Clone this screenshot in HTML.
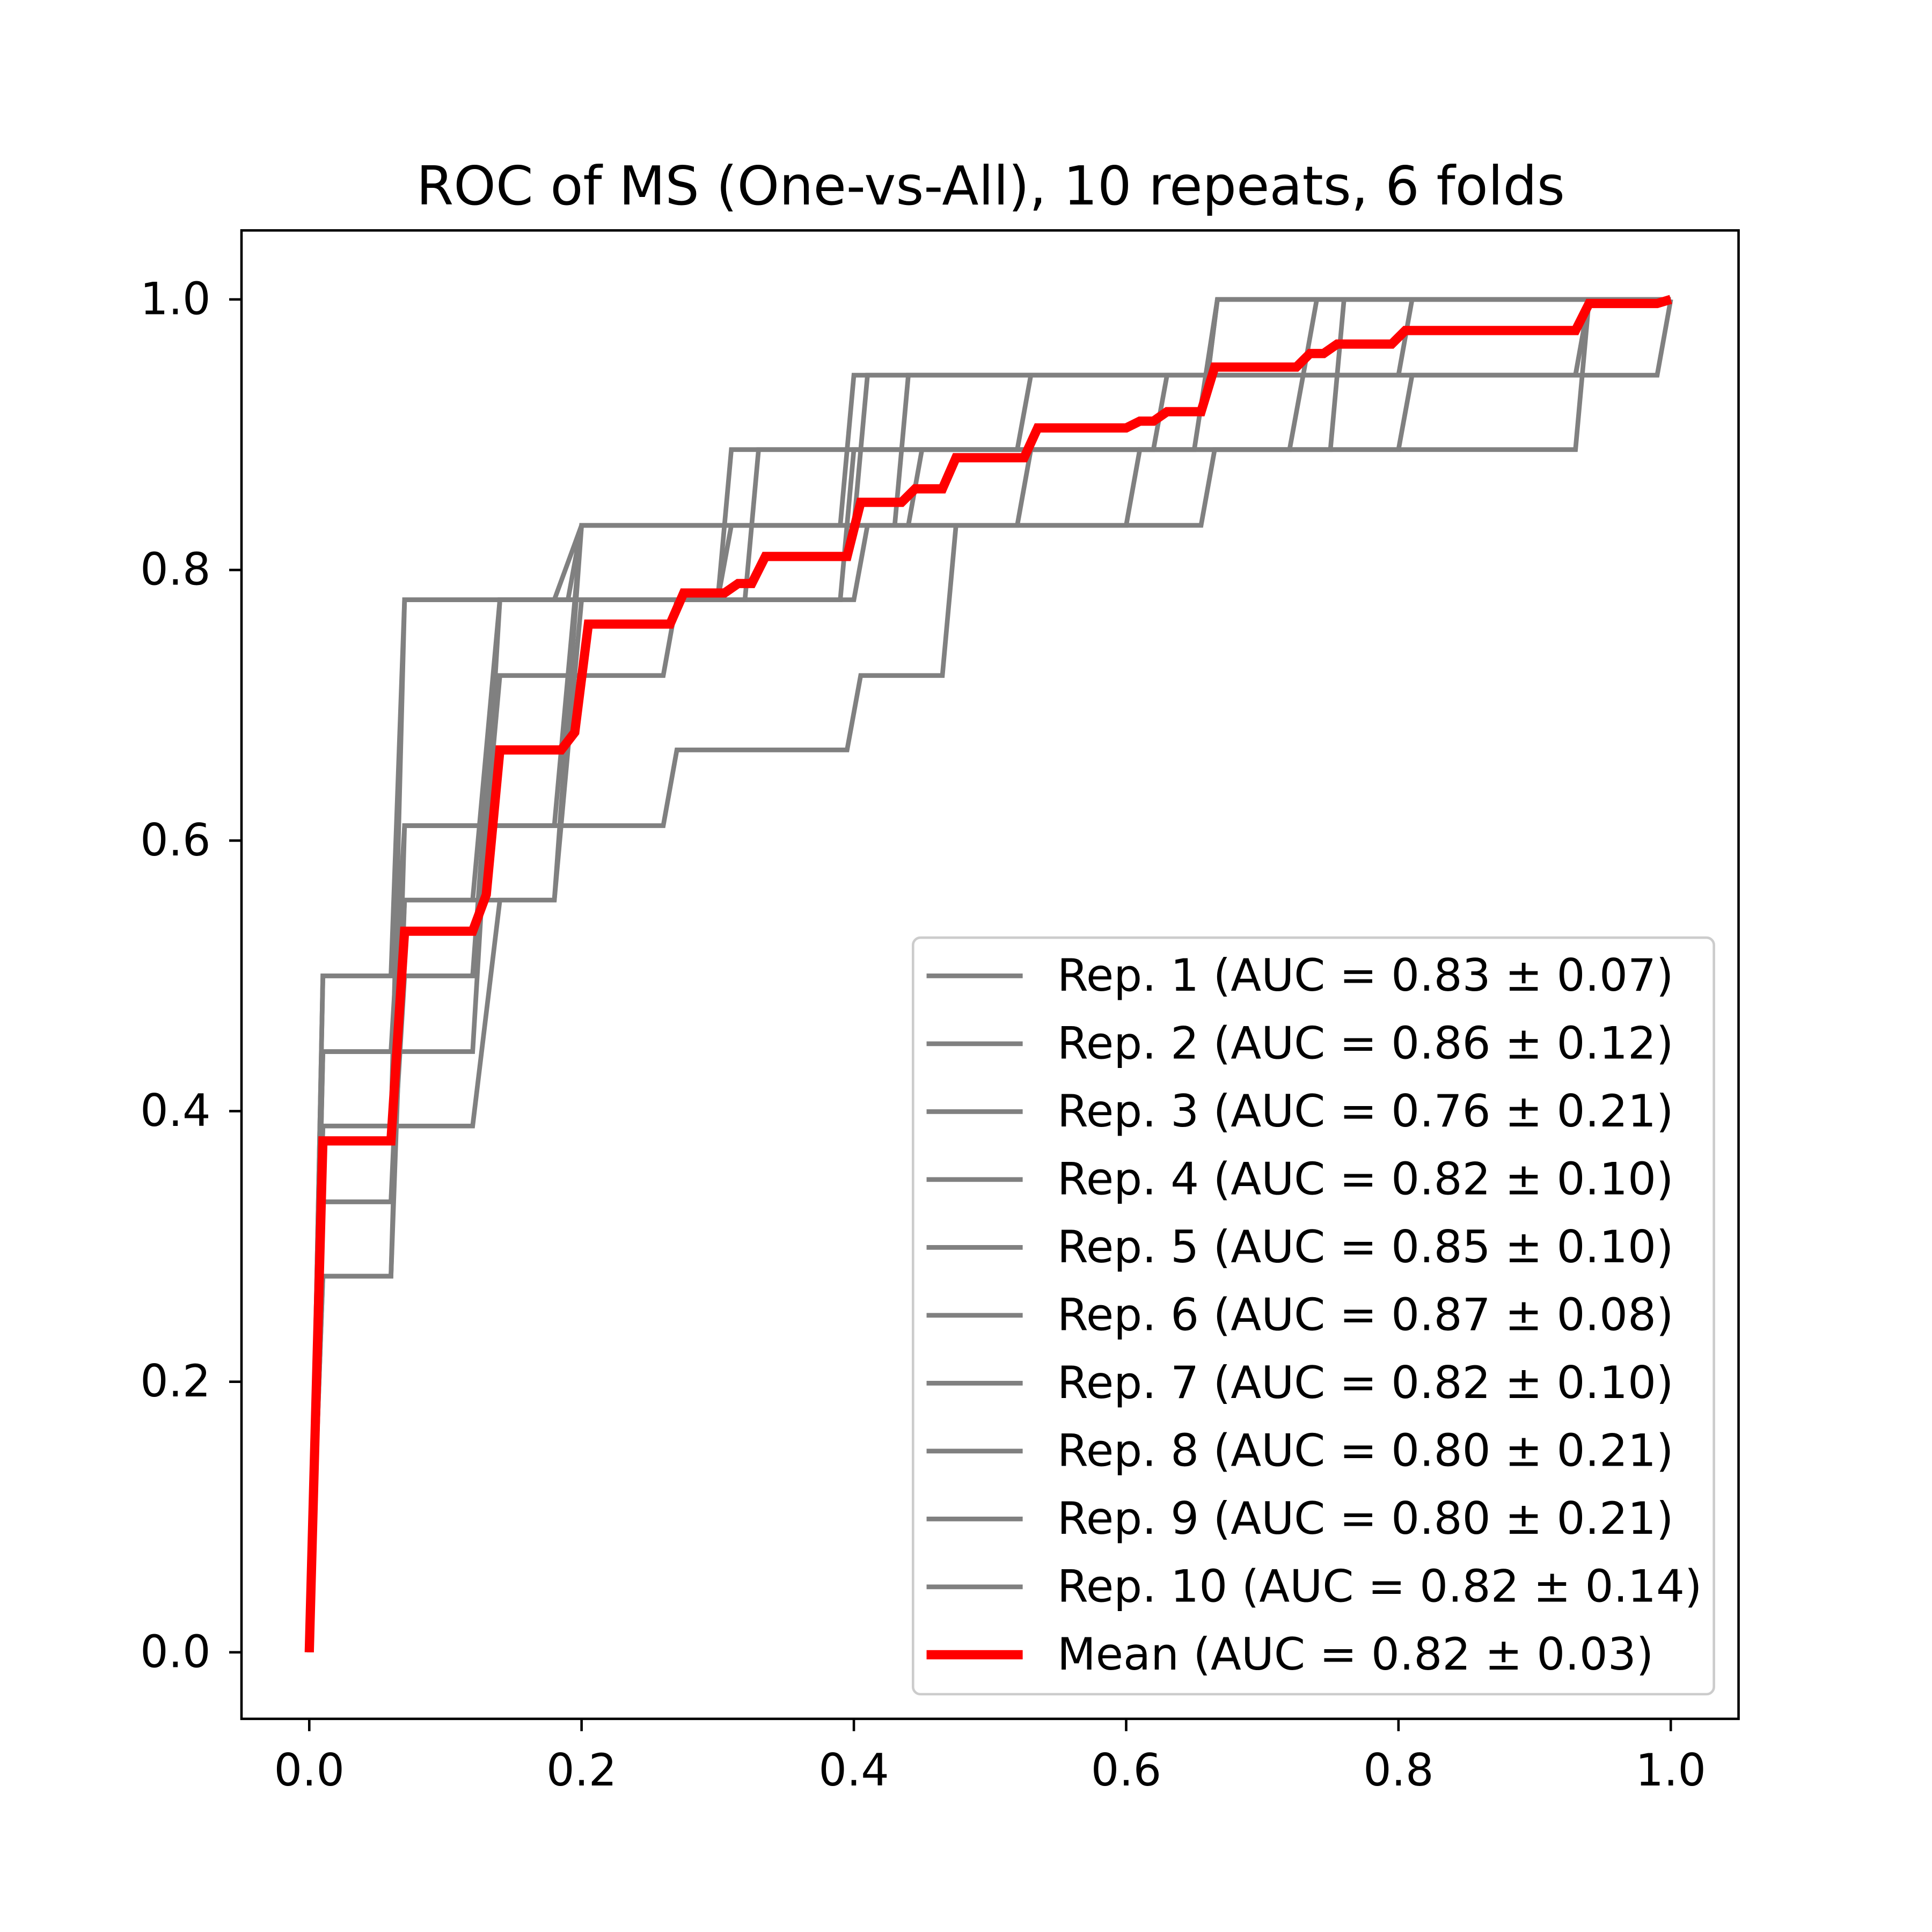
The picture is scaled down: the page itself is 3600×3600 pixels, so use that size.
<!DOCTYPE html>
<html><head><meta charset="utf-8"><style>
html,body{margin:0;padding:0;background:#fff}
svg{display:block;font-family:"DejaVu Sans","Liberation Sans",sans-serif}
</style></head><body>
<svg id="chart" width="3600" height="3600" viewBox="0 0 1568 1568" xmlns="http://www.w3.org/2000/svg">
<rect width="1568" height="1568" fill="#fff"/>
<text x="804" y="166" font-size="43.5" text-anchor="middle">ROC of MS (One-vs-All), 10 repeats, 6 folds</text>
<g id="reps"></g>
<g id="mean"></g>
<rect x="196" y="187" width="1215" height="1208" fill="none" stroke="#000" stroke-width="2"/>
<g id="ticks"></g>
<g id="legend"></g>
</svg>
<script>
const xTicks=[0,0.2,0.4,0.6,0.8,1.0];
const yTicks=[0,0.2,0.4,0.6,0.8,1.0];
const tickLabels=["0.0","0.2","0.4","0.6","0.8","1.0"];
const repLabels=["Rep. 1 (AUC = 0.83 ± 0.07)","Rep. 2 (AUC = 0.86 ± 0.12)","Rep. 3 (AUC = 0.76 ± 0.21)","Rep. 4 (AUC = 0.82 ± 0.10)","Rep. 5 (AUC = 0.85 ± 0.10)","Rep. 6 (AUC = 0.87 ± 0.08)","Rep. 7 (AUC = 0.82 ± 0.10)","Rep. 8 (AUC = 0.80 ± 0.21)","Rep. 9 (AUC = 0.80 ± 0.21)","Rep. 10 (AUC = 0.82 ± 0.14)"];
const meanLabel="Mean (AUC = 0.82 ± 0.03)";
const rep1=[[0,0],[0.01,0.5],[0.06,0.5],[0.07,0.778],[0.18,0.778],[0.2,0.833],[0.4,0.833],[0.41,0.944],[0.66,0.944],[0.667,1],[1,1]];
const rep2=[[0,0],[0.01,0.444],[0.12,0.444],[0.14,0.778],[0.39,0.778],[0.4,0.889],[0.65,0.889],[0.667,1],[1,1]];
const rep3=[[0,0],[0.01,0.278],[0.06,0.278],[0.07,0.611],[0.26,0.611],[0.27,0.667],[0.395,0.667],[0.405,0.722],[0.465,0.722],[0.475,0.833],[0.655,0.833],[0.665,0.889],[0.93,0.889],[0.94,1],[1,1]];
const rep4=[[0,0],[0.01,0.333],[0.06,0.333],[0.07,0.556],[0.18,0.556],[0.2,0.778],[0.3,0.778],[0.31,0.889],[0.52,0.889],[0.53,0.944],[0.8,0.944],[0.81,1],[1,1]];
const rep5=[[0,0],[0.01,0.389],[0.06,0.389],[0.07,0.778],[0.19,0.778],[0.2,0.833],[0.43,0.833],[0.44,0.944],[0.73,0.944],[0.74,1],[1,1]];
const rep6=[[0,0],[0.01,0.5],[0.12,0.5],[0.14,0.722],[0.26,0.722],[0.27,0.778],[0.32,0.778],[0.33,0.889],[0.62,0.889],[0.63,0.944],[0.99,0.944],[1,1]];
const rep7=[[0,0],[0.01,0.444],[0.06,0.444],[0.07,0.611],[0.18,0.611],[0.2,0.833],[0.52,0.833],[0.53,0.889],[0.72,0.889],[0.73,0.944],[0.93,0.944],[0.94,1],[1,1]];
const rep8=[[0,0],[0.01,0.389],[0.12,0.389],[0.14,0.556],[0.18,0.556],[0.2,0.833],[0.39,0.833],[0.4,0.944],[0.66,0.944],[0.667,1],[1,1]];
const rep9=[[0,0],[0.01,0.333],[0.06,0.333],[0.07,0.5],[0.12,0.5],[0.14,0.778],[0.3,0.778],[0.31,0.833],[0.6,0.833],[0.61,0.889],[0.8,0.889],[0.81,0.944],[0.93,0.944],[0.94,1],[1,1]];
const rep10=[[0,0],[0.01,0.278],[0.06,0.278],[0.07,0.556],[0.12,0.556],[0.14,0.778],[0.4,0.778],[0.41,0.833],[0.44,0.833],[0.45,0.889],[0.75,0.889],[0.76,1],[1,1]];
const meanPts=[[0,0],[0.01,0.378],[0.06,0.378],[0.07,0.533],[0.12,0.533],[0.13,0.56],[0.14,0.667],[0.185,0.667],[0.195,0.68],[0.205,0.76],[0.265,0.76],[0.275,0.783],[0.305,0.783],[0.315,0.79],[0.325,0.79],[0.335,0.81],[0.395,0.81],[0.405,0.85],[0.435,0.85],[0.445,0.86],[0.465,0.86],[0.475,0.883],[0.525,0.883],[0.535,0.905],[0.6,0.905],[0.61,0.91],[0.62,0.91],[0.63,0.917],[0.655,0.917],[0.665,0.95],[0.725,0.95],[0.735,0.96],[0.745,0.96],[0.755,0.967],[0.795,0.967],[0.805,0.977],[0.93,0.977],[0.94,0.997],[0.99,0.997],[1,1]];
const reps=[rep1,rep2,rep3,rep4,rep5,rep6,rep7,rep8,rep9,rep10];
const NS="http://www.w3.org/2000/svg";
const X=v=>251+v*(1356-251);
const Y=v=>1341-v*(1341-243);
function mk(tag,attrs,parent){const e=document.createElementNS(NS,tag);for(const k in attrs)e.setAttribute(k,attrs[k]);parent.appendChild(e);return e;}
const gR=document.getElementById('reps');
reps.forEach((r,i)=>{
  const p=mk('polyline',{points:r.map(d=>X(d[0])+','+Y(d[1])).join(' '),fill:'none',stroke:'#808080','stroke-width':3.8},gR);
  
  
});
const mp=mk('polyline',{points:meanPts.map(d=>X(d[0])+','+Y(d[1])).join(' '),fill:'none',stroke:'#ff0000','stroke-width':7.5},document.getElementById('mean'));


const gT=document.getElementById('ticks');
xTicks.forEach((v,i)=>{
  const l=mk('line',{x1:X(v),x2:X(v),y1:1395,y2:1405,stroke:'#000','stroke-width':2},gT);
  
  
  const t=mk('text',{x:X(v),y:1449,'font-size':36,'text-anchor':'middle'},gT);t.textContent=tickLabels[i];
  
  
});
yTicks.forEach((v,i)=>{
  const l=mk('line',{x1:186,x2:196,y1:Y(v),y2:Y(v),stroke:'#000','stroke-width':2},gT);
  
  
  const t=mk('text',{x:171,y:Y(v)+12,'font-size':36,'text-anchor':'end'},gT);t.textContent=tickLabels[i];
  
  
});
const gL=document.getElementById('legend');
const box=mk('rect',{x:741,y:761,width:650,height:614,rx:6,fill:'#fff','fill-opacity':0.8,stroke:'#ccc','stroke-width':2},gL);


const labels=repLabels.concat([meanLabel]);
labels.forEach((s,i)=>{
  const y=792+i*55.1;const m=i===10;
  const l=mk('line',{x1:752,x2:830,y1:y,y2:y,stroke:m?'#ff0000':'#808080','stroke-width':m?7.5:3.8},gL);
  
  
  const t=mk('text',{x:858,y:y+12,'font-size':36.3},gL);t.textContent=s;
  
  
});
</script>
</body></html>
